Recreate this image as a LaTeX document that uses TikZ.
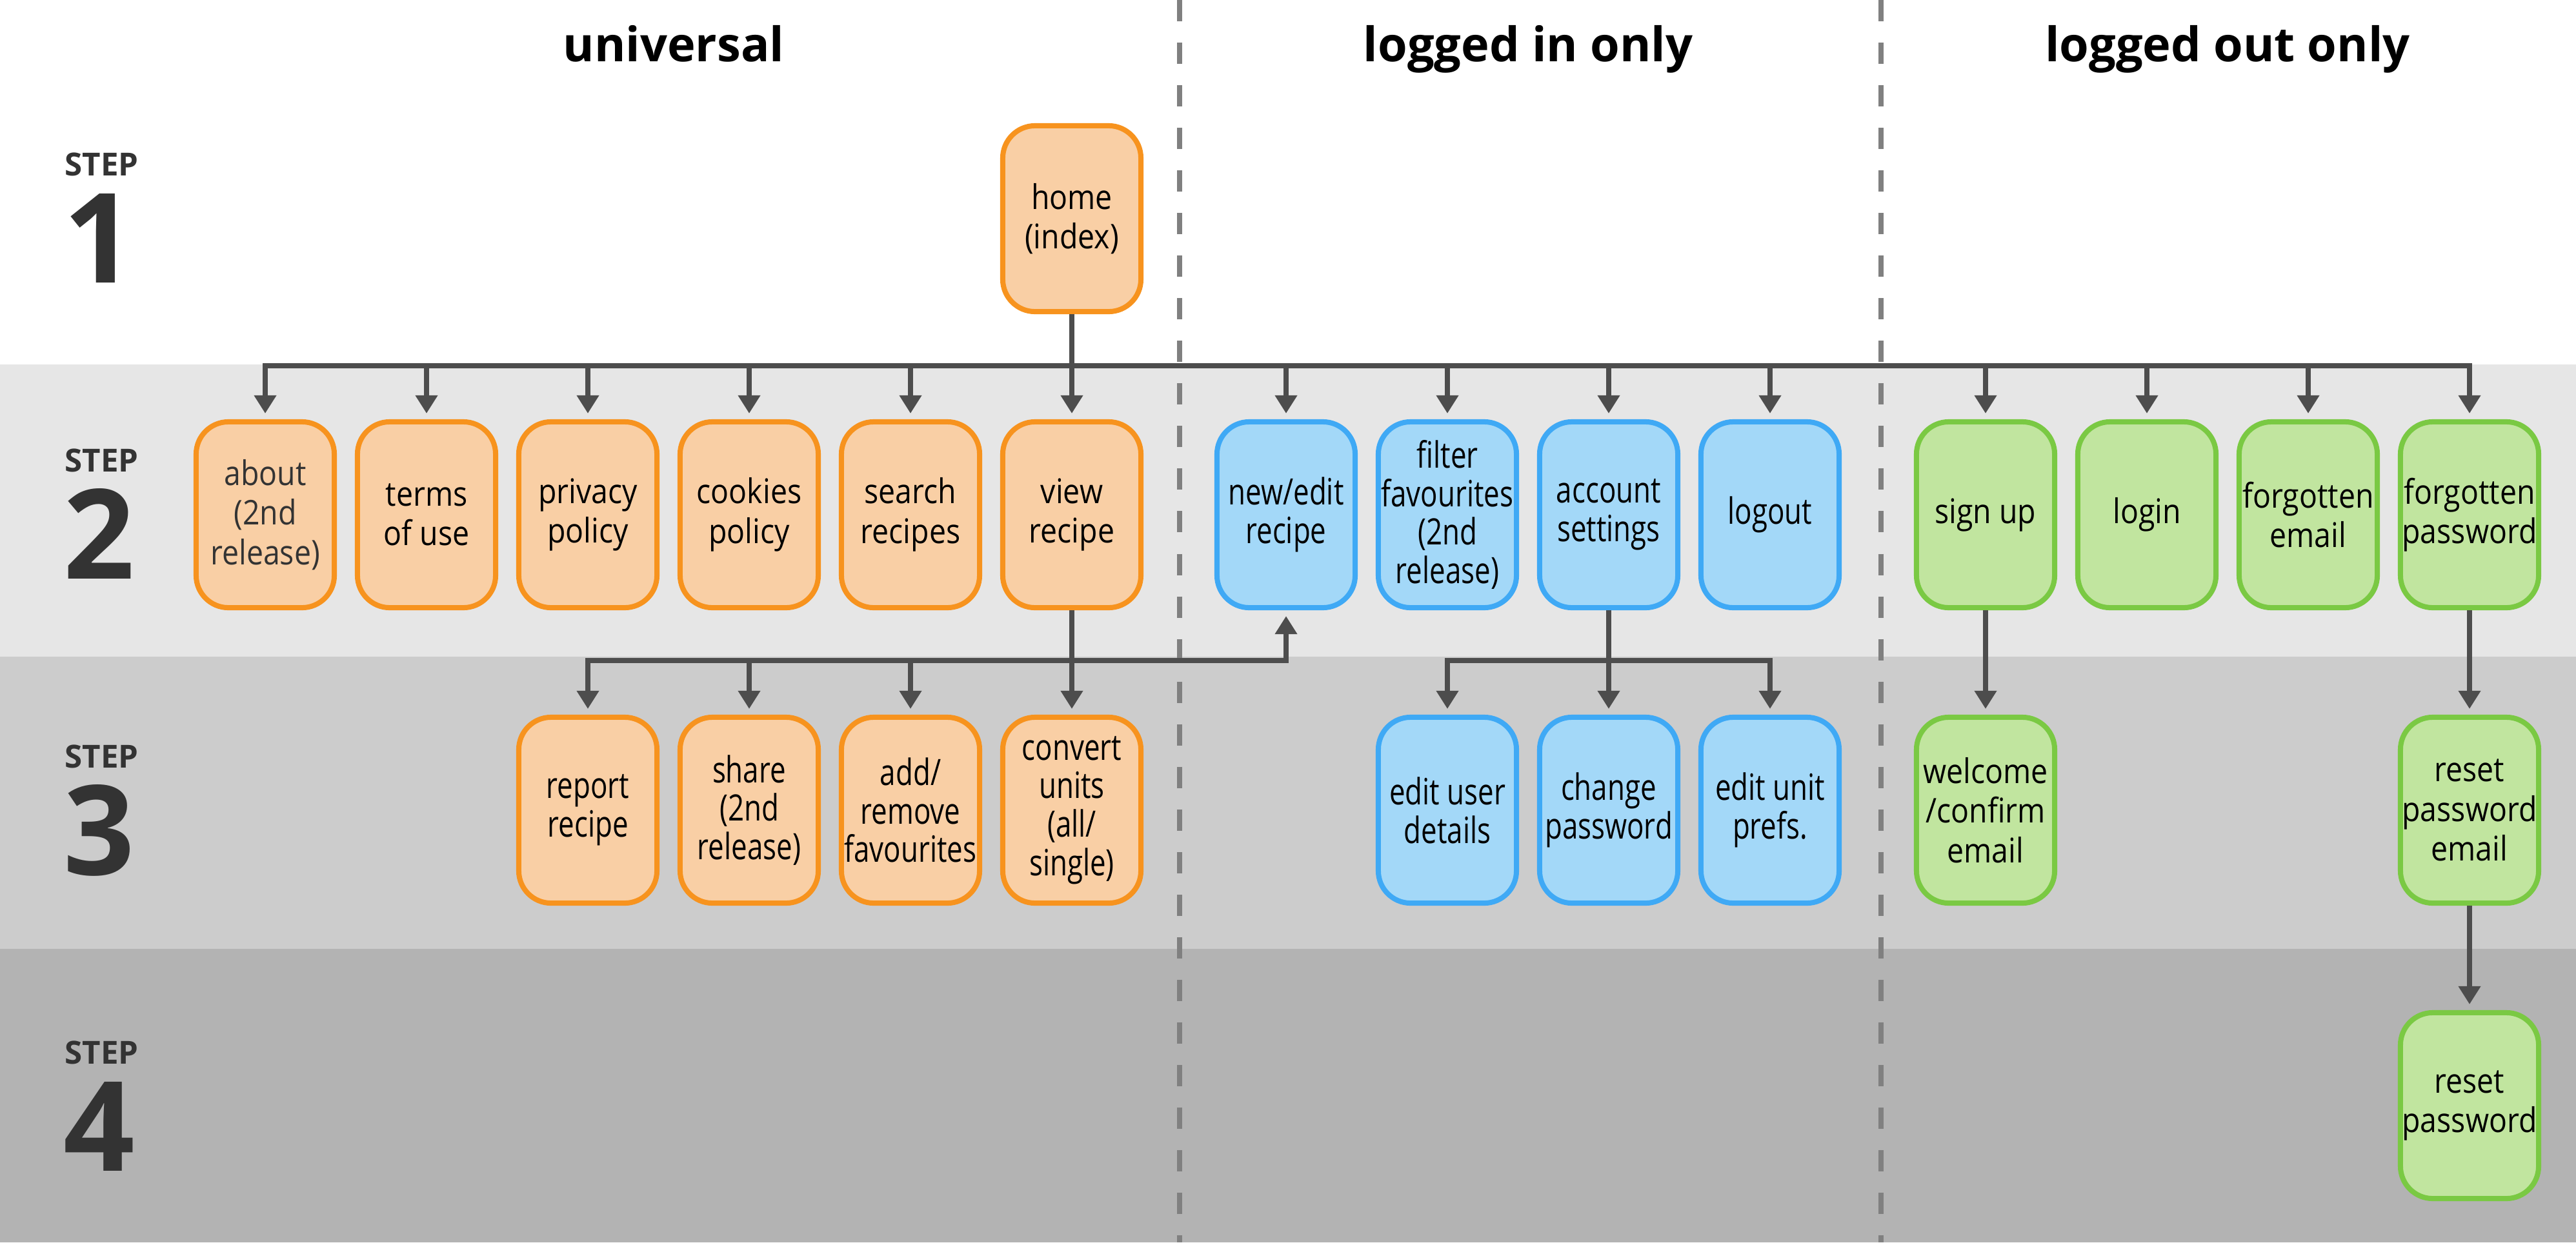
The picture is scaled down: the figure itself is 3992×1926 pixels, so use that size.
\documentclass[tikz,border=0pt]{standalone}
\usepackage{fontspec}
\setmainfont{Open Sans}
\newfontfamily\wideface{Open Sans}[FakeStretch=0.88]
\newfontfamily\narrowface{Open Sans}[FakeStretch=0.78]
\usetikzlibrary{arrows.meta}
\definecolor{orangeline}{HTML}{F7931E}
\definecolor{orangefill}{HTML}{F9CFA5}
\definecolor{blueline}{HTML}{3FA9F5}
\definecolor{bluefill}{HTML}{A3D8F8}
\definecolor{greenline}{HTML}{7AC943}
\definecolor{greenfill}{HTML}{C1E59F}
\definecolor{linkgray}{HTML}{4D4D4D}
\definecolor{dashgray}{HTML}{808080}
\definecolor{steptext}{HTML}{333333}
\definecolor{bandtwo}{HTML}{E6E6E6}
\definecolor{bandthree}{HTML}{CCCCCC}
\definecolor{bandfour}{HTML}{B3B3B3}
\tikzset{
  page/.style={rounded corners=0.5cm, line width=0.08cm, minimum width=2.14cm,
    minimum height=2.88cm, inner sep=0pt, align=center, text=black},
  wide/.style={font=\wideface\fontsize{15}{17.5}\selectfont},
  narrow/.style={font=\narrowface\fontsize{16}{17}\selectfont},
  universal/.style={page, draw=orangeline, fill=orangefill},
  loggedin/.style={page, draw=blueline, fill=bluefill},
  loggedout/.style={page, draw=greenline, fill=greenfill},
  link/.style={draw=linkgray, line width=0.08cm, shorten >=0.09cm},
  divider/.style={draw=dashgray, line width=0.08cm, dash pattern=on 0.33cm off 0.33cm},
  columntitle/.style={font=\bfseries\fontsize{21}{25}\selectfont, inner sep=0pt},
  steplabel/.style={font=\bfseries\fontsize{14}{16}\selectfont, text=steptext, inner sep=0pt},
  stepnum/.style={font=\bfseries\fontsize{55}{60}\selectfont, text=steptext, inner sep=0pt},
  >={Triangle[width=0.33cm,length=0.28cm]}
}
\begin{document}
\begin{tikzpicture}[x=0.01cm, y=-0.01cm]
  \useasboundingbox (0,0) rectangle (3992,1926);
  % Background bands
  \fill[white] (0,0) rectangle (3992,565);
  \fill[bandtwo] (0,565) rectangle (3992,1018);
  \fill[bandthree] (0,1018) rectangle (3992,1471);
  \fill[bandfour] (0,1471) rectangle (3992,1926);
  % Column dividers
  \draw[divider] (1828,0) -- (1828,1926);
  \draw[divider] (2915,0) -- (2915,1926);
  % Column titles
  \node[columntitle, anchor=base] (tuniversal) at (1044,95) {universal};
  \node[columntitle, anchor=base] (tloggedin) at (2368,95) {logged in only};
  \node[columntitle, anchor=base] (tloggedout) at (3452,95) {logged out only};
  % Step labels
  \node[steplabel, anchor=base west] (stepa) at (100,272) {STEP};
  \node[stepnum, anchor=base west] (numa) at (98,438) {1};
  \node[steplabel, anchor=base west] (stepb) at (100,731) {STEP};
  \node[stepnum, anchor=base west] (numb) at (98,897) {2};
  \node[steplabel, anchor=base west] (stepc) at (100,1190) {STEP};
  \node[stepnum, anchor=base west] (numc) at (98,1356) {3};
  \node[steplabel, anchor=base west] (stepd) at (100,1649) {STEP};
  \node[stepnum, anchor=base west] (numd) at (98,1815) {4};
  % Step 1
  \node[universal, wide] (home) at (1661,339) {home\\(index)};
  % Step 2, universal
  \node[universal, wide, text=steptext] (about) at (411,798) {about\\(2nd\\release)};
  \node[universal, wide] (terms) at (661,798) {terms\\of use};
  \node[universal, wide] (privacy) at (911,798) {privacy\\policy};
  \node[universal, wide] (cookies) at (1161,798) {cookies\\policy};
  \node[universal, wide] (search) at (1411,798) {search\\recipes};
  \node[universal, wide] (view) at (1661,798) {view\\recipe};
  % Step 2, logged in
  \node[loggedin, narrow] (newedit) at (1993,798) {new/edit\\recipe};
  \node[loggedin, narrow] (filter) at (2243,798) {filter\\favourites\\(2nd\\release)};
  \node[loggedin, narrow] (account) at (2493,798) {account\\settings};
  \node[loggedin, narrow] (logout) at (2743,798) {logout};
  % Step 2, logged out
  \node[loggedout, wide] (signup) at (3077,798) {sign up};
  \node[loggedout, wide] (login) at (3327,798) {login};
  \node[loggedout, wide] (fgtemail) at (3577,798) {forgotten\\email};
  \node[loggedout, wide] (fgtpass) at (3827,798) {forgotten\\password};
  % Step 3
  \node[universal, narrow] (report) at (911,1256) {report\\recipe};
  \node[universal, narrow] (share) at (1161,1256) {share\\(2nd\\release)};
  \node[universal, narrow] (addfav) at (1411,1256) {add/\\remove\\favourites};
  \node[universal, narrow] (convert) at (1661,1256) {convert\\units\\(all/\\single)};
  \node[loggedin, narrow] (edituser) at (2243,1256) {edit user\\details};
  \node[loggedin, narrow] (changepw) at (2493,1256) {change\\password};
  \node[loggedin, narrow] (editunit) at (2743,1256) {edit unit\\prefs.};
  \node[loggedout, wide] (welcome) at (3077,1256) {welcome\\/confirm\\email};
  \node[loggedout, wide] (resetmail) at (3827,1256) {reset\\password\\email};
  % Step 4
  \node[loggedout, wide] (resetpw) at (3827,1714) {reset\\password};
  % Buses
  \coordinate (topbus) at (0,567);
  \coordinate (lowbus) at (0,1024);
  % Home to step 2
  \draw[link, <->, shorten <=0.09cm] (about.north) -- (about |- topbus) -- (fgtpass |- topbus) -- (fgtpass.north);
  \draw[link, ->] (home.south) -- (view.north);
  \draw[link, ->] (terms |- topbus) -- (terms.north);
  \draw[link, ->] (privacy |- topbus) -- (privacy.north);
  \draw[link, ->] (cookies |- topbus) -- (cookies.north);
  \draw[link, ->] (search |- topbus) -- (search.north);
  \draw[link, ->] (newedit |- topbus) -- (newedit.north);
  \draw[link, ->] (filter |- topbus) -- (filter.north);
  \draw[link, ->] (account |- topbus) -- (account.north);
  \draw[link, ->] (logout |- topbus) -- (logout.north);
  \draw[link, ->] (signup |- topbus) -- (signup.north);
  \draw[link, ->] (login |- topbus) -- (login.north);
  \draw[link, ->] (fgtemail |- topbus) -- (fgtemail.north);
  % View recipe to step 3
  \draw[link, <->, shorten <=0.09cm] (report.north) -- (report |- lowbus) -- (newedit |- lowbus) -- (newedit.south);
  \draw[link, ->] (view.south) -- (convert.north);
  \draw[link, ->] (share |- lowbus) -- (share.north);
  \draw[link, ->] (addfav |- lowbus) -- (addfav.north);
  % Account settings to step 3
  \draw[link, <->, shorten <=0.09cm] (edituser.north) -- (edituser |- lowbus) -- (editunit |- lowbus) -- (editunit.north);
  \draw[link, ->] (account.south) -- (changepw.north);
  % Logged out chains
  \draw[link, ->] (signup.south) -- (welcome.north);
  \draw[link, ->] (fgtpass.south) -- (resetmail.north);
  \draw[link, ->] (resetmail.south) -- (resetpw.north);
\end{tikzpicture}
\end{document}
